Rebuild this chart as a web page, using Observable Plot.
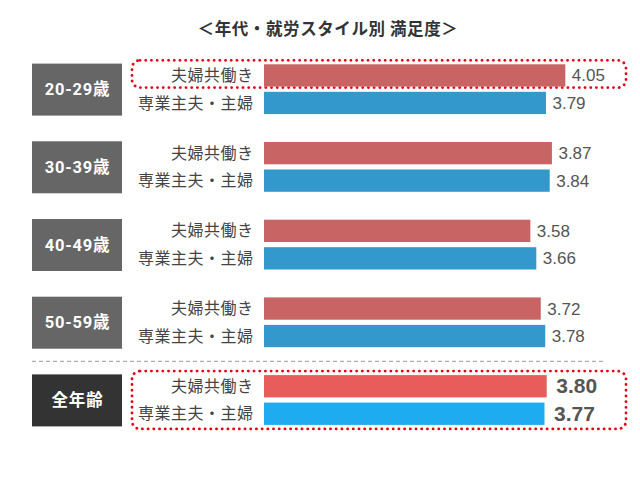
<!DOCTYPE html>
<html>
<head>
<meta charset="utf-8">
<script src="https://cdn.jsdelivr.net/npm/d3@7"></script>
<script src="https://cdn.jsdelivr.net/npm/@observablehq/plot@0.6"></script>
<style>
  html, body { margin: 0; padding: 0; background: #fff; }
  #title {
    height: 46px; box-sizing: border-box; padding-top: 17px; padding-left: 16px;
    text-align: center; font-family: "Noto Sans CJK JP", sans-serif; font-weight: bold;
    font-size: 16.5px; line-height: 22px; color: #333; letter-spacing: 0.6px;
  }
  g[fill="#444"] text { letter-spacing: 0.5px; }
  g[fill="white"] text { letter-spacing: 0.8px; }
</style>
</head>
<body>
<div id="title">＜年代・就労スタイル別 満足度＞</div>
<div id="chart"></div>
<script>
// ---- data ----
const groups = ["20-29歳", "30-39歳", "40-49歳", "50-59歳", "全年齢"];
const series = ["夫婦共働き", "専業主夫・主婦"];
const dualIncome = [4.05, 3.87, 3.58, 3.72, 3.80];
const singleIncome = [3.79, 3.84, 3.66, 3.78, 3.77];
const overallGroup = "全年齢";
const highlightGroups = ["20-29歳", "全年齢"];
const highlightRows = [[0], [0, 1]];

// ---- styles / layout ----
const normalColors = ["#c96464", "#3399cc"];
const overallColors = ["#e85c5c", "#1eabf0"];
const H = 433;
const firstTop = 18.3, groupStep = 77.7, rowStep = 27.5, barH = 22.3;
const boxOffset = 0.7, boxH = 52;

const rows = groups.flatMap((g, gi) => series.map((s, si) => ({
  group: g, gi, series: s, si,
  value: si === 0 ? dualIncome[gi] : singleIncome[gi],
  overall: g === overallGroup
})));
const rowTop = (gi, si) => firstTop + gi * groupStep + si * rowStep;
const boxes = groups.map((g, gi) => ({group: g, gi, overall: g === overallGroup}));
const highlights = highlightGroups.map((g, k) => {
  const gi = groups.indexOf(g);
  const r = highlightRows[k];
  return {gi, y1: rowTop(gi, r[0]) - 4, y2: rowTop(gi, r[r.length - 1]) + barH + (r.length > 1 ? 4 : 1)};
});
const sepIndex = groups.indexOf(overallGroup);
const sepY = (rowTop(sepIndex - 1, 1) + barH + rowTop(sepIndex, 0) - boxOffset) / 2;
const fmt = d3.format(".2f");
const jp = "'Noto Sans CJK JP', sans-serif";

const plot = Plot.plot({
  width: 640,
  height: H,
  marginLeft: 32,
  marginRight: 35,
  marginTop: 0,
  marginBottom: 0,
  x: {type: "linear", domain: [0, 5], range: [264, 636], axis: null},
  y: {type: "linear", domain: [0, H], range: [0, H], axis: null},
  marks: [
    Plot.ruleY([sepY], {stroke: "#999", strokeWidth: 1, strokeDasharray: "4 3"}),
    Plot.rect(boxes, {
      x1: 0, x2: 0, insetLeft: -232, insetRight: 142,
      y1: d => rowTop(d.gi, 0) - boxOffset,
      y2: d => rowTop(d.gi, 0) - boxOffset + boxH,
      fill: d => d.overall ? "#333333" : "#666666"
    }),
    Plot.text(boxes, {
      x: 0, dx: -187,
      y: d => rowTop(d.gi, 0) - boxOffset + boxH / 2,
      text: "group", fill: "white", fontWeight: "bold", fontSize: 16.5,
      fontFamily: "Roboto, 'Noto Sans CJK JP', sans-serif", textAnchor: "middle"
    }),
    Plot.rect(highlights, {
      x1: 0, x2: 0, insetLeft: -132, insetRight: -362,
      y1: "y1", y2: "y2", rx: 8,
      fill: "none", stroke: "#e60012", strokeWidth: 2.8,
      strokeDasharray: "0.1 5.6", strokeLinecap: "round"
    }),
    Plot.text(rows, {
      x: 0, dx: -11,
      y: d => rowTop(d.gi, d.si) + barH / 2,
      text: "series", textAnchor: "end", fill: "#444", fontSize: 16, fontFamily: jp
    }),
    Plot.rect(rows, {
      x1: 0, x2: "value",
      y1: d => rowTop(d.gi, d.si),
      y2: d => rowTop(d.gi, d.si) + barH,
      fill: d => (d.overall ? overallColors : normalColors)[d.si]
    }),
    Plot.text(rows.filter(d => !d.overall), {
      x: "value", dx: 6,
      y: d => rowTop(d.gi, d.si) + barH / 2,
      text: d => fmt(d.value), textAnchor: "start", fill: "#555", fontSize: 17,
      fontFamily: "'Liberation Sans', Arial, sans-serif"
    }),
    Plot.text(rows.filter(d => d.overall), {
      x: "value", dx: 9,
      y: d => rowTop(d.gi, d.si) + barH / 2,
      text: d => fmt(d.value), textAnchor: "start", fill: "#555", fontSize: 21,
      fontWeight: "bold", fontFamily: "'Liberation Sans', Arial, sans-serif"
    })
  ]
});
plot.style.overflow = "visible";
document.getElementById("chart").appendChild(plot);
</script>
</body>
</html>
